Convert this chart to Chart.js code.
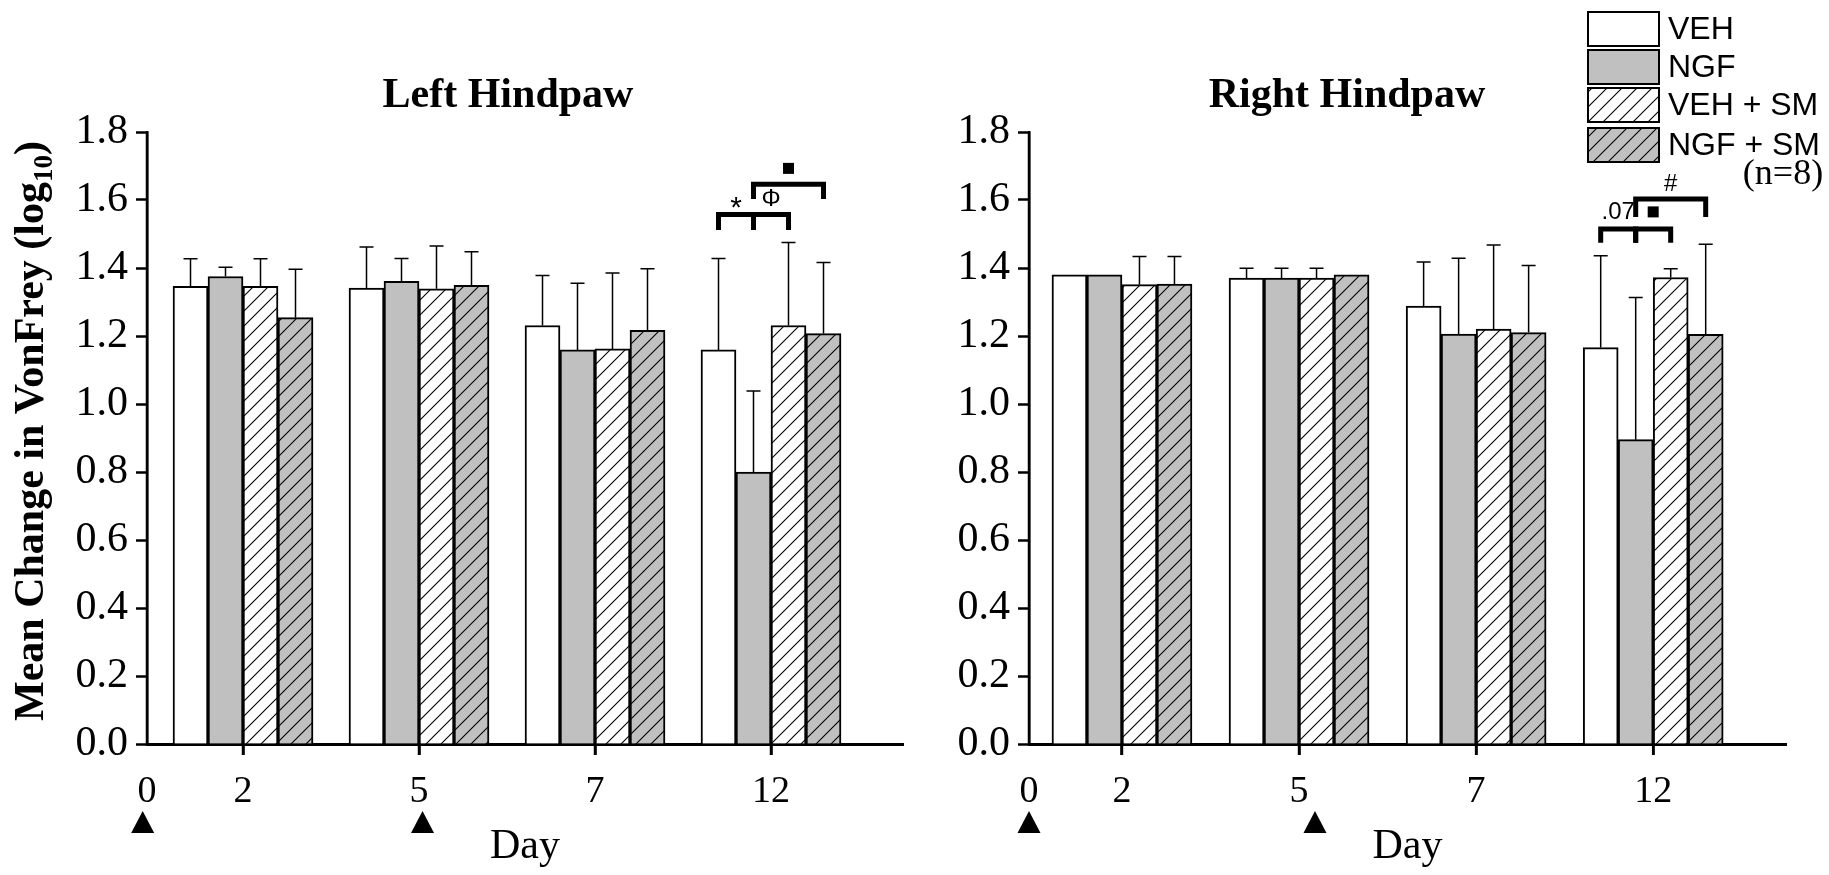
<!DOCTYPE html>
<html>
<head>
<meta charset="utf-8">
<script src="https://cdn.jsdelivr.net/npm/chart.js@4.4.1/dist/chart.umd.min.js"></script>
<style>
  html, body { margin: 0; padding: 0; background: #fff; }
  .panel { position: absolute; top: 0; height: 875px; }
  #left { left: 0; width: 930px; }
  #right { left: 930px; width: 899px; }
</style>
</head>
<body>
<div class="panel" id="left"><canvas id="leftChart"></canvas></div>
<div class="panel" id="right"><canvas id="rightChart"></canvas></div>
<script>
// x tick labels (first one sits on the axis origin), groups
const dayLabels = ['0', '2', '5', '7', '12'];
const groups = ['VEH', 'NGF', 'VEH + SM', 'NGF + SM'];

// Left hindpaw: bar means (days 2, 5, 7, 12)
const leftVeh   = [1.346, 1.341, 1.231, 1.159];
const leftNgf   = [1.375, 1.361, 1.159, 0.800];
const leftVehSm = [1.346, 1.339, 1.162, 1.231];
const leftNgfSm = [1.254, 1.349, 1.217, 1.207];
// Left hindpaw: top of error whisker
const leftVehTop   = [1.427, 1.462, 1.378, 1.428];
const leftNgfTop   = [1.402, 1.428, 1.355, 1.038];
const leftVehSmTop = [1.427, 1.465, 1.385, 1.475];
const leftNgfSmTop = [1.396, 1.448, 1.398, 1.416];

// Right hindpaw: bar means
const rightVeh   = [1.380, 1.370, 1.288, 1.166];
const rightNgf   = [1.380, 1.370, 1.206, 0.895];
const rightVehSm = [1.351, 1.370, 1.220, 1.372];
const rightNgfSm = [1.353, 1.380, 1.210, 1.205];
// Right hindpaw: top of error whisker (null = none drawn)
const rightVehTop   = [null, 1.399, 1.418, 1.436];
const rightNgfTop   = [null, 1.399, 1.429, 1.313];
const rightVehSmTop = [1.434, 1.399, 1.468, 1.398];
const rightNgfSmTop = [1.434, null, 1.407, 1.470];

// significance brackets: [day index, from group, to group, top, leg end, symbol, symbol level]
const leftBrackets = [
  [3, 0, 1, 1.557, 1.512, '*', 1.590],
  [3, 1, 2, 1.557, 1.512, 'Φ', 1.603],
  [3, 1, 3, 1.646, 1.603, '■', 1.693]
];
const rightBrackets = [
  [3, 0, 1, 1.515, 1.474, '.07', 1.565],
  [3, 1, 2, 1.515, 1.474, '■', 1.565],
  [3, 1, 3, 1.603, 1.550, '#', 1.647]
];

// injection arrowheads, in x-scale units
const leftInjections = [-0.57, 1.02];
const rightInjections = [-0.525, 1.09];

function hatch(bg) {
  const c = document.createElement('canvas');
  c.width = c.height = 15;
  const g = c.getContext('2d');
  g.fillStyle = bg;
  g.fillRect(0, 0, 15, 15);
  g.strokeStyle = '#000';
  g.lineWidth = 1.1;
  g.beginPath();
  g.moveTo(-2, 17); g.lineTo(17, -2);
  g.moveTo(-2, 2); g.lineTo(2, -2);
  g.moveTo(13, 17); g.lineTo(17, 13);
  g.stroke();
  return g.createPattern(c, 'repeat');
}

const GRAY = '#c0c0c0';
const fills = ['#ffffff', GRAY, hatch('#ffffff'), hatch(GRAY)];
const SERIF = '"Liberation Serif", "Times New Roman", serif';
const SANS = '"Liberation Sans", Arial, sans-serif';

function drawDecor(chart, tops, brackets, injections, p) {
  const ctx = chart.ctx;
  const y = chart.scales.y;
  const x = chart.scales.x;
  const area = chart.chartArea;
  ctx.save();

  // vertical axis line
  ctx.strokeStyle = '#000';
  ctx.lineWidth = 2.5;
  ctx.beginPath();
  ctx.moveTo(area.left, area.top);
  ctx.lineTo(area.left, area.bottom);
  ctx.stroke();

  // tick marks under the day labels
  ctx.lineWidth = 2.5;
  x.ticks.forEach((t, i) => {
    if (i === 0) return;
    const px = x.getPixelForValue(t.value);
    ctx.beginPath();
    ctx.moveTo(px, area.bottom);
    ctx.lineTo(px, area.bottom + 11);
    ctx.stroke();
  });

  // error whiskers (upper only)
  ctx.lineWidth = 1.5;
  tops.forEach((arr, i) => {
    const meta = chart.getDatasetMeta(i);
    arr.forEach((t, j) => {
      if (t == null) return;
      const bar = meta.data[j];
      const yt = y.getPixelForValue(t);
      ctx.beginPath();
      ctx.moveTo(bar.x, bar.y);
      ctx.lineTo(bar.x, yt);
      ctx.moveTo(bar.x - 7, yt);
      ctx.lineTo(bar.x + 7, yt);
      ctx.stroke();
    });
  });

  // significance brackets
  brackets.forEach(([cat, a, b, top, leg, sym, symY]) => {
    const xa = chart.getDatasetMeta(a).data[cat].x;
    const xb = chart.getDatasetMeta(b).data[cat].x;
    const yTop = y.getPixelForValue(top);
    const yLeg = y.getPixelForValue(leg);
    ctx.lineWidth = 5;
    ctx.lineJoin = 'miter';
    ctx.lineCap = 'butt';
    ctx.beginPath();
    ctx.moveTo(xa, yLeg);
    ctx.lineTo(xa, yTop);
    ctx.lineTo(xb, yTop);
    ctx.lineTo(xb, yLeg);
    ctx.stroke();
    const cx = (xa + xb) / 2;
    const cy = y.getPixelForValue(symY);
    ctx.fillStyle = '#000';
    if (sym === '■') {
      ctx.fillRect(cx - 5.5, cy - 5.5, 11, 11);
    } else {
      ctx.font = (sym === '*' ? '30px ' : '24px ') + SANS;
      ctx.textAlign = 'center';
      ctx.textBaseline = 'middle';
      ctx.fillText(sym, cx, sym === '*' ? cy + 5 : cy);
    }
  });

  // injection arrowheads under the axis
  ctx.fillStyle = '#000';
  injections.forEach(v => {
    const px = x.getPixelForValue(v);
    ctx.beginPath();
    ctx.moveTo(px, 811);
    ctx.lineTo(px + 11.5, 833);
    ctx.lineTo(px - 11.5, 833);
    ctx.closePath();
    ctx.fill();
  });

  // panel title
  ctx.font = 'bold 42px ' + SERIF;
  ctx.textAlign = 'center';
  ctx.textBaseline = 'alphabetic';
  ctx.fillText(p.title, p.titleX, 107);
  ctx.restore();
}

function drawYTitle(chart) {
  const ctx = chart.ctx;
  const main = 'Mean Change in VonFrey (log';
  const sub = '10';
  const end = ')';
  const big = 'bold 42px ' + SERIF;
  const small = 'bold 27px ' + SERIF;
  ctx.save();
  ctx.font = big;
  const w1 = ctx.measureText(main).width;
  const w3 = ctx.measureText(end).width;
  ctx.font = small;
  const w2 = ctx.measureText(sub).width;
  const total = w1 + w2 + w3;
  ctx.translate(43, 431);
  ctx.rotate(-Math.PI / 2);
  ctx.fillStyle = '#000';
  ctx.textAlign = 'left';
  ctx.textBaseline = 'alphabetic';
  let cx = -total / 2;
  ctx.font = big;
  ctx.fillText(main, cx, 0);
  cx += w1;
  ctx.font = small;
  ctx.fillText(sub, cx, 9);
  cx += w2;
  ctx.font = big;
  ctx.fillText(end, cx, 0);
  ctx.restore();
}

function drawLegend(chart) {
  const ctx = chart.ctx;
  const rows = [12, 50, 88, 128];
  ctx.save();
  chart.data.datasets.forEach((ds, i) => {
    ctx.fillStyle = ds.backgroundColor;
    ctx.fillRect(658, rows[i], 71, 34);
    ctx.strokeStyle = '#000';
    ctx.lineWidth = 2;
    ctx.strokeRect(658, rows[i], 71, 34);
    ctx.fillStyle = '#000';
    ctx.font = '32px ' + SANS;
    ctx.textAlign = 'left';
    ctx.textBaseline = 'middle';
    ctx.fillText(ds.label, 738, rows[i] + 18);
  });
  ctx.font = '36px ' + SERIF;
  ctx.textAlign = 'center';
  ctx.fillText('(n=8)', 853, 175);
  ctx.restore();
}

function makePanel(canvasId, series, tops, brackets, injections, p) {
  const datasets = series.map((vals, i) => ({
    label: groups[i],
    data: vals.map((v, j) => ({ x: j, y: v })),
    backgroundColor: fills[i],
    borderColor: '#000',
    borderWidth: 2,
    barThickness: 35
  }));

  return new Chart(document.getElementById(canvasId), {
    type: 'bar',
    data: { datasets },
    options: {
      responsive: true,
      maintainAspectRatio: false,
      animation: false,
      layout: { padding: { left: 0, right: p.padRight, top: 132, bottom: 0 } },
      plugins: {
        legend: { display: false },
        tooltip: { enabled: false },
        title: { display: false }
      },
      scales: {
        x: {
          type: 'linear',
          offset: false,
          min: p.xMin,
          max: 3.75,
          afterBuildTicks: scale => {
            scale.ticks = [p.xMin, 0, 1, 2, 3].map(v => ({ value: v }));
          },
          afterFit: scale => { scale.height = 131; },
          border: { display: true, color: '#000', width: 3 },
          grid: {
            display: true,
            offset: false,
            drawOnChartArea: false,
            drawTicks: true,
            tickLength: 11,
            tickWidth: 2.5,
            tickColor: c => (c.index === 0 ? 'rgba(0,0,0,0)' : '#000')
          },
          ticks: {
            autoSkip: false,
            maxRotation: 0,
            padding: 14,
            color: '#000',
            font: { family: SERIF, size: 38 },
            callback: (v, i) => dayLabels[i]
          },
          title: {
            display: true,
            text: 'Day',
            color: '#000',
            padding: { top: 0, bottom: 3 },
            font: { family: SERIF, size: 42 }
          }
        },
        y: {
          min: 0,
          max: 1.8,
          afterFit: scale => { scale.width = p.yWidth; },
          border: { display: true, color: '#000', width: 2.5 },
          grid: {
            display: true,
            drawOnChartArea: false,
            drawTicks: true,
            tickLength: 11,
            tickWidth: 2.5,
            tickColor: '#000'
          },
          ticks: {
            stepSize: 0.2,
            padding: 8,
            color: '#000',
            font: { family: SERIF, size: 42 },
            callback: v => v.toFixed(1)
          }
        }
      }
    },
    plugins: [{
      id: 'decor',
      afterDraw: chart => {
        drawDecor(chart, tops, brackets, injections, p);
        if (p.yTitle) drawYTitle(chart);
        if (p.legend) drawLegend(chart);
      }
    }]
  });
}

makePanel('leftChart',
  [leftVeh, leftNgf, leftVehSm, leftNgfSm],
  [leftVehTop, leftNgfTop, leftVehSmTop, leftNgfSmTop],
  leftBrackets, leftInjections,
  { title: 'Left Hindpaw', titleX: 508, xMin: -0.5455, yWidth: 147, padRight: 27, yTitle: true, legend: false });

makePanel('rightChart',
  [rightVeh, rightNgf, rightVehSm, rightNgfSm],
  [rightVehTop, rightNgfTop, rightVehSmTop, rightNgfSmTop],
  rightBrackets, rightInjections,
  { title: 'Right Hindpaw', titleX: 417, xMin: -0.525, yWidth: 99, padRight: 43, yTitle: false, legend: true });
</script>
</body>
</html>
